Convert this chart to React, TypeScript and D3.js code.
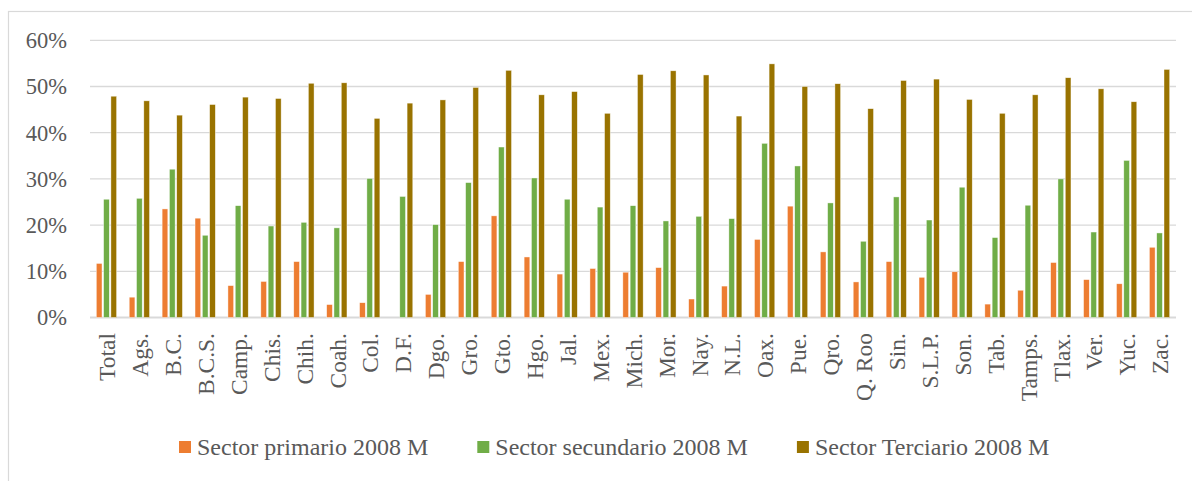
import React, { useRef, useEffect } from 'react';
import * as d3 from 'd3';

const states = [
    'Total', 'Ags.', 'B.C.', 'B.C.S.', 'Camp.', 'Chis.', 'Chih.', 'Coah.', 'Col.', 'D.F.',
    'Dgo.', 'Gro.', 'Gto.', 'Hgo.', 'Jal.', 'Mex.', 'Mich.', 'Mor.', 'Nay.', 'N.L.',
    'Oax.', 'Pue.', 'Qro.', 'Q. Roo', 'Sin.', 'S.L.P.', 'Son.', 'Tab.', 'Tamps.', 'Tlax.',
    'Ver.', 'Yuc.', 'Zac.'
];

const primario = [
    11.7, 4.4, 23.5, 21.5, 6.9, 7.8, 12.1, 2.8, 3.2, 0,
    5.0, 12.1, 22.0, 13.1, 9.4, 10.6, 9.8, 10.8, 4.0, 6.8,
    16.9, 24.1, 14.2, 7.7, 12.1, 8.7, 9.9, 2.9, 5.9, 11.9,
    8.2, 7.3, 15.2
];

const secundario = [
    25.6, 25.8, 32.1, 17.8, 24.2, 19.8, 20.6, 19.4, 30.1, 26.2,
    20.1, 29.2, 36.9, 30.2, 25.6, 23.9, 24.2, 20.9, 21.9, 21.4,
    37.7, 32.8, 24.8, 16.5, 26.1, 21.1, 28.2, 17.3, 24.3, 30.0,
    18.5, 34.0, 18.3
];

const terciario = [
    47.9, 46.9, 43.8, 46.1, 47.7, 47.4, 50.7, 50.8, 43.1, 46.4,
    47.1, 49.8, 53.5, 48.2, 48.9, 44.2, 52.6, 53.4, 52.5, 43.6,
    54.9, 50.0, 50.6, 45.2, 51.3, 51.6, 47.2, 44.2, 48.2, 51.9,
    49.5, 46.7, 53.7
];

const seriesNames = ['Sector primario 2008 M', 'Sector secundario 2008 M', 'Sector Terciario 2008 M'];
const seriesColors = ['#ED7D31', '#70AD47', '#997300'];
const yTicks = [0, 10, 20, 30, 40, 50, 60];

const W = 1192;
const H = 481;
const FONT = '"Liberation Serif", "Times New Roman", serif';
const TEXT = '#595959';

const App: React.FC = () => {
    const ref = useRef<SVGSVGElement>(null);

    useEffect(() => {
        if (!ref.current) return;
        const svg = d3.select(ref.current);
        svg.selectAll('*').remove();

        const left = 90, right = 1176, top = 40.3, bottom = 317.5;
        const allSeries = [primario, secundario, terciario];

        // chart frame
        svg.append('rect')
            .attr('x', 8.5).attr('y', 11.5)
            .attr('width', 1220).attr('height', 520)
            .attr('fill', '#fff')
            .attr('stroke', '#d9d9d9')
            .attr('stroke-width', 1.2);

        const x0 = d3.scaleBand<string>()
            .domain(states)
            .range([left, right])
            .padding(0);

        const groupW = 20.3;
        const x1 = d3.scaleBand<number>()
            .domain([0, 1, 2])
            .range([0, groupW])
            .paddingInner(0.22);

        const y = d3.scaleLinear().domain([0, 60]).range([bottom, top]);

        // grid
        svg.append('g')
            .selectAll('line')
            .data(yTicks)
            .enter()
            .append('line')
            .attr('x1', left).attr('x2', right)
            .attr('y1', d => y(d)).attr('y2', d => y(d))
            .attr('stroke', '#d9d9d9')
            .attr('stroke-width', d => d === 0 ? 1.8 : 1.3);

        // y labels
        svg.append('g')
            .selectAll('text')
            .data(yTicks)
            .enter()
            .append('text')
            .attr('x', 67)
            .attr('y', d => y(d))
            .attr('dy', '0.35em')
            .attr('text-anchor', 'end')
            .attr('font-family', FONT)
            .attr('font-size', 22.5)
            .attr('fill', TEXT)
            .text(d => `${d}%`);

        // bars
        const groups = svg.append('g')
            .selectAll('g')
            .data(states)
            .enter()
            .append('g')
            .attr('transform', d => `translate(${x0(d)! + (x0.bandwidth() - groupW) / 2},0)`);

        groups.selectAll('rect')
            .data((_, i) => allSeries.map((s, k) => ({ k, v: s[i] })))
            .enter()
            .filter(d => d.v > 0)
            .append('rect')
            .attr('x', d => x1(d.k)!)
            .attr('y', d => y(d.v))
            .attr('width', x1.bandwidth())
            .attr('height', d => y(0) - y(d.v))
            .attr('fill', d => seriesColors[d.k])
            .attr('stroke', '#fff')
            .attr('stroke-opacity', 0.7)
            .attr('stroke-width', 0.6);

        // x labels
        svg.append('g')
            .selectAll('text')
            .data(states)
            .enter()
            .append('text')
            .attr('transform', d => `translate(${x0(d)! + x0.bandwidth() / 2 + 0.5},333) rotate(-90)`)
            .attr('dy', '0.35em')
            .attr('text-anchor', 'end')
            .attr('font-family', FONT)
            .attr('font-size', 23.5)
            .attr('fill', TEXT)
            .text(d => d);

        // legend
        const legend = svg.append('g');
        let lx = 179;
        seriesNames.forEach((name, i) => {
            legend.append('rect')
                .attr('x', lx).attr('y', 441)
                .attr('width', 12).attr('height', 12)
                .attr('fill', seriesColors[i]);
            const t = legend.append('text')
                .attr('x', lx + 18)
                .attr('y', 447)
                .attr('dy', '0.35em')
                .attr('font-family', FONT)
                .attr('font-size', 24)
                .attr('fill', TEXT)
                .text(name);
            const tw = (t.node() as SVGTextElement).getComputedTextLength();
            lx += 18 + tw + 49;
        });
    }, []);

    return (
        <svg
            ref={ref}
            width={W}
            height={H}
            style={{ position: 'absolute', left: 0, top: 0, background: '#fff' }}
        />
    );
};

export default App;
